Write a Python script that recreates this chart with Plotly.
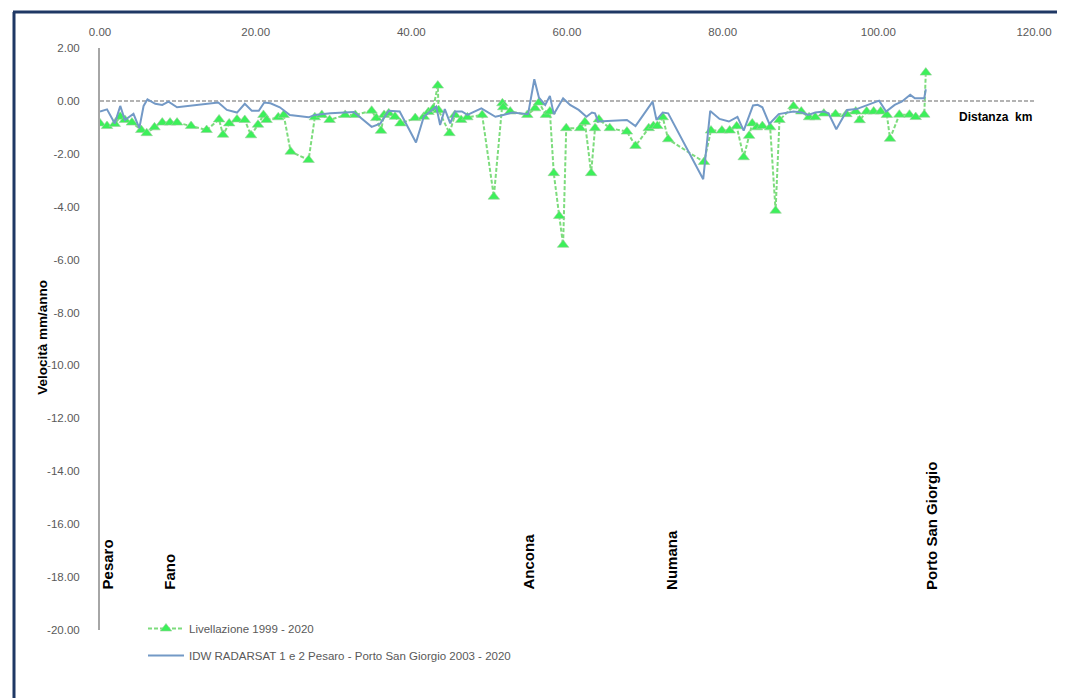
import plotly.graph_objects as go

# ---------------- data ----------------
km_liv = [0.0, 0.9, 1.9, 2.6, 3.2, 4.1, 5.3, 6.0, 7.0, 8.0, 9.0, 9.9, 11.7, 13.7, 15.3, 15.8,
          16.6, 17.6, 18.6, 19.4, 20.3, 21.0, 21.4, 22.9, 23.6, 24.5, 26.8, 27.6, 28.5, 29.5,
          31.5, 32.8, 34.9, 35.5, 36.1, 36.5, 37.1, 37.9, 38.6, 40.5, 41.6, 42.2, 42.8, 43.4,
          43.5, 44.9, 45.6, 46.4, 47.2, 49.1, 50.6, 51.7, 51.8, 52.7, 54.9, 55.9, 56.4, 57.3,
          57.8, 58.3, 59.0, 59.5, 59.9, 61.7, 62.3, 63.1, 63.6, 64.1, 65.5, 67.7, 68.8, 70.5,
          71.1, 71.6, 72.3, 73.0, 77.6, 78.5, 79.9, 80.9, 81.8, 82.7, 83.4, 83.8, 84.4, 85.1,
          86.1, 86.8, 87.3, 89.1, 90.1, 91.1, 91.9, 93.0, 94.5, 95.9, 97.1, 97.6, 98.5, 99.4,
          100.3, 101.1, 101.5, 102.7, 104.0, 104.8, 105.9, 106.1]
v_liv = [-0.85, -0.95, -0.87, -0.6, -0.72, -0.82, -1.1, -1.22, -1.0, -0.82, -0.82, -0.82, -0.95,
         -1.1, -0.7, -1.28, -0.85, -0.7, -0.72, -1.3, -0.9, -0.53, -0.72, -0.62, -0.53, -1.92,
         -2.23, -0.62, -0.53, -0.72, -0.53, -0.53, -0.37, -0.65, -1.13, -0.53, -0.47, -0.6,
         -0.85, -0.65, -0.6, -0.42, -0.3, 0.58, -0.35, -1.22, -0.53, -0.72, -0.62, -0.53, -3.62,
         -0.09, -0.24, -0.4, -0.53, -0.28, -0.06, -0.53, -0.4, -2.73, -4.35, -5.44, -1.03,
         -1.03, -0.8, -2.73, -1.03, -0.7, -1.03, -1.16, -1.7, -1.03, -0.95, -0.95, -0.62, -1.45,
         -2.31, -1.12, -1.12, -1.12, -0.96, -2.13, -1.32, -0.85, -1.0, -0.95, -1.0, -4.15,
         -0.72, -0.2, -0.4, -0.62, -0.62, -0.48, -0.5, -0.5, -0.4, -0.73, -0.4, -0.4, -0.4,
         -0.53, -1.43, -0.52, -0.52, -0.61, -0.52, 1.07]

km_idw = [0.0, 0.9, 1.9, 2.6, 3.2, 4.3, 5.05, 5.6, 6.1, 7.1, 8.0, 8.8, 9.9, 15.2, 16.3, 17.6,
          18.6, 19.5, 20.4, 21.1, 21.9, 23.1, 24.4, 26.8, 27.6, 29.6, 32.6, 33.8, 34.9, 36.0,
          37.1, 38.5, 40.6, 41.6, 43.2, 43.7, 44.3, 45.0, 45.6, 46.5, 47.2, 49.0, 50.8, 51.8,
          53.0, 55.0, 55.8, 56.4, 57.2, 57.8, 58.3, 59.5, 60.4, 61.5, 62.5, 63.2, 63.6, 64.0,
          67.7, 68.8, 71.0, 71.5, 72.3, 73.0, 77.5, 78.4, 79.6, 80.8, 81.9, 82.7, 83.9, 84.5,
          85.1, 86.0, 87.2, 89.1, 90.2, 91.0, 91.9, 93.0, 93.6, 94.6, 96.0, 97.2, 98.7, 100.1,
          101.0, 102.1, 103.0, 104.1, 104.7, 105.9, 106.1]
v_idw = [-0.4, -0.32, -0.85, -0.19, -0.72, -0.49, -1.03, -0.19, 0.06, -0.11, -0.15, -0.03,
         -0.24, -0.06, -0.34, -0.44, -0.11, -0.37, -0.37, -0.06, -0.09, -0.24, -0.53, -0.62,
         -0.53, -0.47, -0.42, -0.72, -0.98, -0.86, -0.37, -0.4, -1.57, -0.6, -0.21, -0.91,
         -0.31, -0.85, -0.4, -0.4, -0.53, -0.28, -0.6, -0.53, -0.44, -0.5, 0.82, 0.12, -0.15,
         0.19, -0.5, 0.1, -0.15, -0.34, -0.6, -0.44, -0.47, -0.78, -0.72, -0.95, -0.03, -0.72,
         -0.44, -0.47, -2.96, -0.38, -0.68, -0.78, -0.6, -1.12, -0.17, -0.15, -0.24, -0.87,
         -0.5, -0.4, -0.44, -0.53, -0.44, -0.4, -0.47, -1.07, -0.34, -0.31, -0.15, 0.01, -0.4,
         -0.15, -0.03, 0.23, 0.1, 0.1, 0.44]

city_names = ["Pesaro", "Fano", "Ancona", "Numana", "Porto San Giorgio"]
city_km = [1.0, 9.0, 55.1, 73.4, 106.8]

x_ticks = [0, 20, 40, 60, 80, 100, 120]
y_ticks = [2, 0, -2, -4, -6, -8, -10, -12, -14, -16, -18, -20]

# ---------------- figure ----------------
FONT = "Liberation Sans"
GRAY_TXT = "#595959"

fig = go.Figure()

fig.add_trace(go.Scatter(
    x=km_liv, y=v_liv, mode="lines+markers",
    name="Livellazione 1999 - 2020", legendgroup="a",
    line=dict(color="#7ddc7d", width=2, dash="4px,2px"),
    marker=dict(symbol="triangle-up", size=10, color="#3cf05a",
                line=dict(color="#9ccc9c", width=0.6)),
))
fig.add_trace(go.Scatter(
    x=km_idw, y=v_idw, mode="lines",
    name="IDW RADARSAT 1 e 2 Pesaro - Porto San Giorgio 2003 - 2020", legendgroup="b",
    line=dict(color="#7399c6", width=2),
))

# zero line (dashed axis)
fig.add_shape(type="line", xref="x", yref="y", x0=0, x1=120, y0=0, y1=0,
              line=dict(color="#9a9a9a", width=1.5, dash="4px,2px"), layer="below")

# frame (window pixel -> paper coordinates)
def px(xp):
    return (xp - 100) / 934.0

def py(yp):
    return (630 - yp) / 582.0

fig.add_shape(type="line", xref="paper", yref="paper", x0=px(14), x1=px(14), y0=py(12), y1=py(705),
              line=dict(color="#1f3864", width=3))
fig.add_shape(type="line", xref="paper", yref="paper", x0=px(13), x1=px(1070), y0=py(12), y1=py(12),
              line=dict(color="#1f3864", width=3))
fig.add_shape(type="line", xref="paper", yref="paper", x0=px(1061), x1=px(1061), y0=py(13), y1=py(705),
              line=dict(color="#d9d9d9", width=1.5))

# city labels
for name, k in zip(city_names, city_km):
    fig.add_annotation(x=k, y=-18.55, xref="x", yref="y", text=name, showarrow=False,
                       textangle=-90, xanchor="center", yanchor="bottom",
                       font=dict(family=FONT, size=15, color="#000000", weight="bold"))

fig.add_annotation(x=px(957), y=-0.6, xref="paper", yref="y", text="Distanza  km",
                   showarrow=False, xanchor="left", yanchor="middle",
                   font=dict(family=FONT, size=12, color="#000000", weight="bold"))

fig.add_annotation(x=px(43), y=-8.95, xref="paper", yref="y", text="Velocità mm/anno",
                   showarrow=False, textangle=-90, xanchor="center", yanchor="middle",
                   font=dict(family=FONT, size=13.5, color="#000000", weight="bold"))

fig.update_layout(
    width=1057, height=690,
    margin=dict(l=92, r=31, t=40, b=68, pad=0),
    paper_bgcolor="white", plot_bgcolor="white",
    showlegend=True,
    legend=dict(x=px(143), y=py(614), xanchor="left", yanchor="top",
                bgcolor="rgba(0,0,0,0)", tracegroupgap=8, itemwidth=36,
                font=dict(family=FONT, size=11.5, color=GRAY_TXT)),
    xaxis=dict(range=[0, 120], side="top", tickvals=x_ticks,
               ticktext=[f"{v:.2f}" for v in x_ticks],
               showgrid=False, zeroline=False, showline=False, ticks="",
               ticklabelstandoff=9,
               tickfont=dict(family=FONT, size=11.5, color=GRAY_TXT)),
    yaxis=dict(range=[-20, 2], tickvals=y_ticks,
               ticktext=[f"{v:.2f}" for v in y_ticks],
               showgrid=False, zeroline=False, showline=True, linecolor="#a6a6a6",
               linewidth=2, ticks="", ticklabelstandoff=16,
               tickfont=dict(family=FONT, size=11.5, color=GRAY_TXT)),
)

fig.write_html("out.html")
